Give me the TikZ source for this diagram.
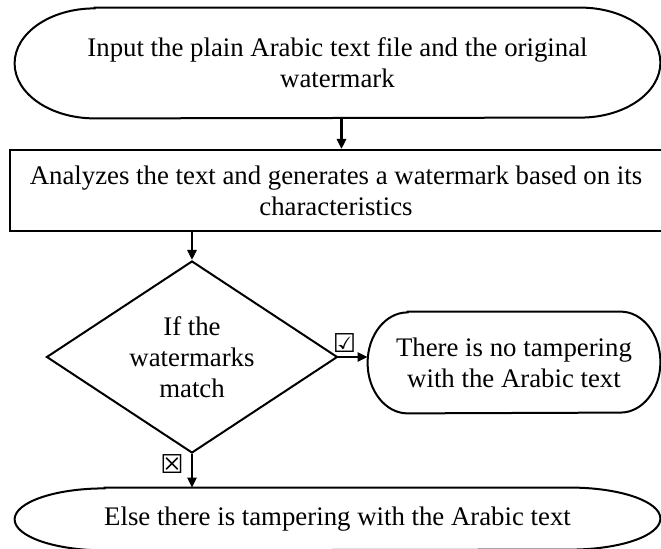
\documentclass[tikz,border=0pt]{standalone}
\usepackage{fontspec}
\setmainfont{Liberation Serif}
\newfontfamily\symfont{DejaVu Sans}
\usetikzlibrary{positioning,shapes.geometric,arrows.meta}

\newcommand{\termoutline}[3]{%
  \draw[outline] ([xshift=#2]#1.north west) -- ([xshift=-#2]#1.north east)
    arc[start angle=90,end angle=-90,x radius=#2,y radius=#3]
    -- ([xshift=#2]#1.south west)
    arc[start angle=270,end angle=90,x radius=#2,y radius=#3] -- cycle;}

\begin{document}
\begin{tikzpicture}[x=0.5pt,y=-0.5pt,
    outline/.style={
        draw,
        line width=1pt
    },
    txt/.style={
        align=center,
        inner sep=0pt,
        font=\fontsize{13.4}{15.6}\selectfont
    },
    arrow/.style={
        -{Triangle[length=5pt,width=4.5pt]},
        line width=1.2pt
    },
    tickbox/.style={
        inner sep=0pt,
        font=\symfont\bfseries\fontsize{13}{13}\selectfont
    }
    ]
    \useasboundingbox (0,0) rectangle (661,549);

    \node[txt, minimum width=322.5pt, minimum height=55pt] (input) at (337.5,63) {Input the plain Arabic text file and the original\\watermark};
    \termoutline{input}{40pt}{27.5pt}

    \node[txt, outline, minimum width=326pt, minimum height=40.5pt] (analyze) at (336,190.5) {Analyzes the text and generates a watermark based on its\\characteristics};

    \node[txt, outline, diamond, inner sep=-5pt, minimum width=145.5pt, minimum height=96pt] (check) at (192,357) {If the\\watermarks\\match};

    \node[txt, minimum width=146pt, minimum height=50.5pt] (notamper) at (514,362.5) {There is no tampering\\with the Arabic text};
    \termoutline{notamper}{20pt}{25.25pt}

    \node[txt, minimum width=322.5pt, minimum height=31pt] (tamper) at (337.5,519) {Else there is tampering with the Arabic text};
    \termoutline{tamper}{45pt}{15.5pt}

    \node[tickbox, above=2pt of check.east, xshift=3pt] (yes) {☑};
    \node[tickbox, left=4pt of check.south, yshift=-5pt] (no) {☒};

    \draw[arrow] ([xshift=2pt]input.south) -- ([xshift=2pt]input.south |- analyze.north);
    \draw[arrow] (analyze.south -| check.north) -- (check.north);
    \draw[arrow] (check.east) -- (check.east -| notamper.west);
    \draw[arrow] (check.south) -- (check.south |- tamper.north);
\end{tikzpicture}
\end{document}
